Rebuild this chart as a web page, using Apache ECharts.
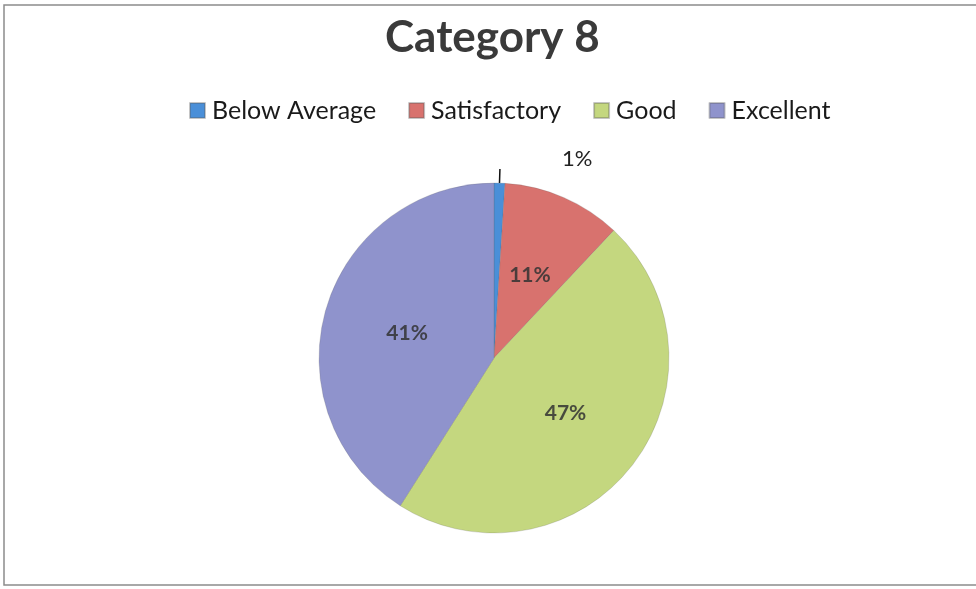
<!DOCTYPE html>
<html>
<head>
<meta charset="utf-8">
<script src="https://cdn.jsdelivr.net/npm/echarts@6/dist/echarts.min.js"></script>
<style>
  html, body { margin: 0; padding: 0; background: #fff; }
  #main { width: 976px; height: 589px; }
</style>
</head>
<body>
<div id="main"></div>
<script>
// 数据
const categories = ['Below Average', 'Satisfactory', 'Good', 'Excellent'];
const values = [1, 11, 47, 41];
const colors = ['#4a8fd8', '#d8726e', '#c4d77f', '#8f93cc'];

const chart = echarts.init(document.getElementById('main'));

const pieData = categories.map(function (name, i) {
    const item = { name: name, value: values[i], itemStyle: { color: colors[i] } };
    if (i === 0) {
        // 小扇区标签放在外面
        item.label = {
            position: 'outside',
            color: '#222',
            fontWeight: 'normal',
            fontSize: 22,
            offset: [57, -10]
        };
        item.labelLine = { show: true, length: 14, length2: 0, lineStyle: { color: '#111', width: 1.5 } };
    }
    return item;
});

const option = {
    backgroundColor: '#fff',
    graphic: [{
        type: 'rect',
        shape: { x: 4, y: 5, width: 990, height: 580 },
        style: { fill: 'none', stroke: '#8c8c8c', lineWidth: 1.5 },
        silent: true
    }],
    title: {
        text: 'Category 8',
        left: 380,
        top: 11,
        textStyle: { fontFamily: 'Lato', fontSize: 44, fontWeight: 'bold', color: '#3a3a3a' }
    },
    legend: {
        top: 93,
        left: 184,
        itemWidth: 15,
        itemHeight: 15,
        itemGap: 32,
        icon: 'rect',
        data: categories,
        textStyle: { fontFamily: 'Lato', fontSize: 25, color: '#1a1a1a', padding: [0, 0, 0, 2] }
    },
    series: [{
        type: 'pie',
        center: [494, 358],
        radius: 175,
        startAngle: 90,
        clockwise: true,
        data: pieData,
        label: {
            show: true,
            position: 'inside',
            formatter: '{d}%',
            fontFamily: 'Lato',
            fontSize: 21,
            fontWeight: 'bold',
            color: 'rgba(50,50,50,0.85)'
        },
        labelLine: { show: false },
        itemStyle: { borderColor: 'rgba(90,90,90,0.35)', borderWidth: 0.6 },
        emphasis: { disabled: true }
    }]
};

chart.setOption(option);
</script>
</body>
</html>
